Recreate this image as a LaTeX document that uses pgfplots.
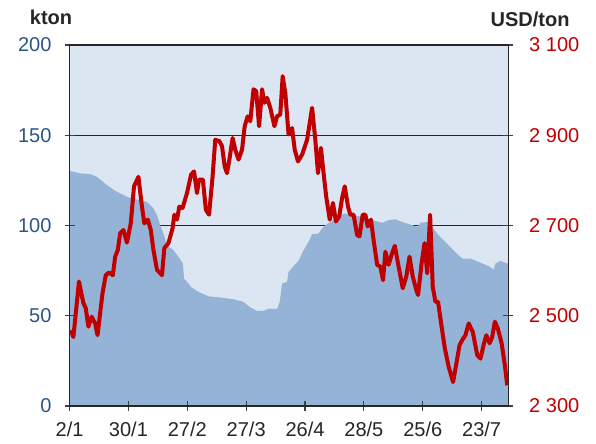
\documentclass[border=0pt]{standalone}
\usepackage{pgfplots}
\pgfplotsset{compat=1.18}
\usepackage{fontspec}
\setmainfont{Liberation Sans}
\definecolor{bgblue}{RGB}{220,230,242}
\definecolor{areablue}{RGB}{149,179,215}
\definecolor{pricered}{RGB}{192,0,0}
\definecolor{labblue}{RGB}{44,85,135}
\definecolor{labgrey}{RGB}{38,38,38}

\pgfplotstableread{
d K
0 130.3
3.6 128.9
7.0 128.5
9.3 127
12.7 122.4
15.5 119.2
19.5 115.9
22.9 114.4
26.3 113.1
28.5 109.5
29.7 105.7
30.8 100.2
31.9 95.6
33.1 89.1
35.3 86.3
37.0 82.6
38.5 79
38.9 70.6
40.4 67.9
41.2 66
43.8 63.2
47.2 60.8
51.2 60.1
55.7 59.2
59.1 57.7
61.4 54.6
63.7 52.7
65.9 52.7
67.6 54
70.5 53.8
71.4 57.7
72.2 67.9
73.9 68.8
74.4 74.3
76.1 77.5
77.8 80.5
79.5 86.3
81.2 90.9
82.4 95.2
84.6 95.6
85.8 98.4
86.9 100.2
88.6 102
91.4 105.7
93.7 106.7
96.0 105.7
99.4 104.8
102.8 103
106.2 101.5
108.4 103
110.7 103.5
113 102
116.4 100.2
118.1 99.2
119.2 101.5
121.5 102
123.2 99.2
125.4 94.6
128.8 89.1
130.9 85.4
133.4 81.7
136.2 81.7
139 79.8
142.4 77.5
144.1 75.6
144.7 79
146.4 80.4
148.7 79
149 79
}\stocks

\pgfplotstableread{
d P
0.5 2468
1.3 2453
3.2 2576
4.7 2528
5.5 2517
6.4 2476
7.5 2498
8.7 2483
9.5 2457
11.2 2550
12.3 2590
13.4 2596
14.7 2590
15.5 2631
16.4 2646
17.2 2683
18.3 2690
19.5 2662
20.8 2705
21.9 2787
23.4 2808
24.6 2742
25.4 2705
26.6 2713
27.6 2690
28.5 2646
29.7 2602
31.4 2590
32.2 2650
33.6 2661
35 2694
35.6 2724
36.5 2713
37.3 2742
38.4 2739
39.9 2772
41.3 2813
42.3 2820
43.3 2772
44 2802
45.3 2802
46.3 2735
47.4 2724
48.6 2809
49.5 2890
50.9 2887
51.8 2876
52.7 2831
53.5 2816
54.3 2846
55.4 2894
56.3 2868
57.4 2846
58.6 2868
59.5 2920
60.5 2942
61.4 2931
62.5 3002
63.4 2998
64.4 2920
65.4 3002
66.2 2972
67.1 2983
68.2 2961
69.6 2920
70.5 2942
71.6 2946
72.4 3031
73.3 2994
74.4 2902
75.6 2916
76.5 2868
77.6 2842
79 2857
80.7 2890
82.4 2961
83.5 2890
84.4 2816
85.4 2872
86.3 2816
87.2 2764
88.4 2713
89.5 2750
90.5 2709
91.6 2720
92.6 2761
93.5 2787
94.6 2742
95.4 2724
96.5 2724
97.7 2679
98.5 2676
99.6 2724
100.5 2724
101.3 2698
102.4 2713
103.3 2668
104.5 2613
105.6 2609
106.5 2579
107.3 2642
108.4 2613
109.6 2639
110.5 2655
111.8 2609
113.2 2561
114.4 2587
115.5 2631
116.6 2587
117.8 2557
118.4 2546
119.6 2616
120.6 2661
121.5 2594
122.5 2724
123.4 2564
124.3 2531
125.2 2531
126.4 2476
127.5 2428
128.8 2387
130.3 2353
131.3 2390
132.5 2435
133.4 2446
134.5 2457
135.6 2483
137 2464
138.5 2413
139.6 2405
140.8 2439
141.6 2457
142.7 2439
143.6 2453
144.5 2487
145.5 2472
146.8 2439
147.9 2390
148.7 2346
}\price

\begin{document}
\begin{tikzpicture}
\useasboundingbox (-34.75pt,-18.65pt) rectangle (263pt,202.85pt);
% left axis: background, grid, area, left and bottom labels
\begin{axis}[
  at={(0pt,0pt)}, anchor=south west,
  scale only axis, width=219.1pt, height=180.35pt,
  xmin=0, xmax=149, ymin=0, ymax=200,
  axis background/.style={fill=bgblue},
  axis line style={draw=none},
  major tick length=0pt,
  ytick={0,50,100,150,200},
  ymajorgrids, grid style={black!85, line width=0.5pt},
  xtick={0,20,40,60,80,100,120,140},
  xticklabels={2/1,30/1,27/2,27/3,26/4,28/5,25/6,23/7},
  /pgf/number format/assume math mode=true,
  tick label style={font=\fontsize{10}{12}\selectfont},
  yticklabel style={text=labblue, anchor=east, xshift=-5.5pt},
  xticklabel style={text=labgrey, anchor=north, yshift=-4.5pt},
  clip=false,
]
\addplot[fill=areablue, draw=none] table[x=d, y=K] {\stocks} \closedcycle;
\node[font=\bfseries\fontsize{10}{12}\selectfont, text=labgrey] at (rel axis cs:0,1) [xshift=-9.25pt, yshift=13.75pt] {kton};
\node[font=\bfseries\fontsize{10}{12}\selectfont, text=labgrey] at (rel axis cs:1,1) [xshift=11pt, yshift=13pt] {USD/ton};
\end{axis}
% right axis: box, ticks, price line
\begin{axis}[
  at={(0pt,0pt)}, anchor=south west,
  scale only axis, width=219.1pt, height=180.35pt,
  xmin=0, xmax=149, ymin=2300, ymax=3100,
  axis line style={black!85, line width=0.6pt},
  tick style={black!75, line width=0.6pt},
  tick align=center, major tick length=5pt,
  ytick={2300,2500,2700,2900,3100},
  yticklabels={2 300,2 500,2 700,2 900,3 100},
  ytick pos=both, yticklabel pos=right,
  xtick={0,20,40,60,80,100,120,140},
  xtick pos=left, xticklabels={},
  tick label style={font=\fontsize{10}{12}\selectfont},
  yticklabel style={text=pricered, anchor=west, xshift=4.5pt},
]
\addplot[pricered, line width=2pt, line join=round] table[x=d, y=P] {\price};
\end{axis}
\end{tikzpicture}
\end{document}
